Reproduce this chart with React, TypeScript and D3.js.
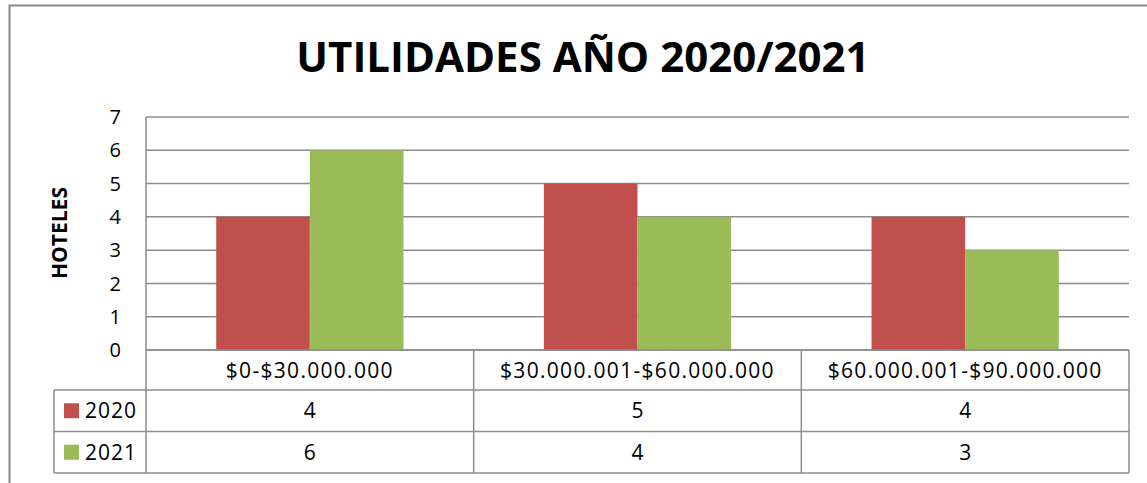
import React from "react";
import * as d3 from "d3";

const categories = ["$0-$30.000.000", "$30.000.001-$60.000.000", "$60.000.001-$90.000.000"];
const seriesNames = ["2020", "2021"];
const values2020 = [4, 5, 4];
const values2021 = [6, 4, 3];
const yTicks = [0, 1, 2, 3, 4, 5, 6, 7];
const colors = ["#C0504D", "#9BBB59"];
const title = "UTILIDADES AÑO 2020/2021";
const yLabel = "HOTELES";

export default function App() {
  const W = 1147, H = 483;
  const left = 146, right = 1129, top = 117, bottom = 350;
  const legendLeft = 54;
  const rowH = [350, 390, 431.5, 473];
  const font = "'Open Sans', sans-serif";
  const grid = "#8C8C8C";

  const x0 = d3.scaleBand<string>().domain(categories).range([left, right]).paddingInner(0).paddingOuter(0);
  const bw = x0.bandwidth();
  const x1 = d3.scaleBand<string>().domain(seriesNames).range([0, bw]).paddingInner(0).paddingOuter(0.75);
  const y = d3.scaleLinear().domain([0, 7]).range([bottom, top]);
  const series = [values2020, values2021];
  const tfs = 21;
  const ls = 1;

  return (
    <svg width={W} height={H} style={{ position: "absolute", left: 0, top: 0 }} fontFamily={font}>
      <rect x={0} y={0} width={W} height={H} fill="#fff" />
      <rect x={9.5} y={5.5} width={1150} height={500} fill="none" stroke="#888" strokeWidth={2} />
      <text x={583} y={72} textAnchor="middle" fontWeight="bold" fontSize={42} fill="#000">{title}</text>
      {yTicks.map((t) => (
        <line key={t} x1={left} x2={right} y1={y(t)} y2={y(t)} stroke={grid} strokeWidth={1.5} />
      ))}
      <line x1={left} x2={left} y1={top} y2={bottom} stroke={grid} strokeWidth={1.5} />
      {yTicks.map((t) => (
        <text key={t} x={121} y={y(t)} dy="0.36em" textAnchor="end" fontSize={20} fill="#000">{t}</text>
      ))}
      <text transform={`translate(67,233) rotate(-90)`} textAnchor="middle" fontWeight="bold" fontSize={21} fill="#000">{yLabel}</text>
      {series.map((vals, si) =>
        vals.map((v, ci) => (
          <rect key={`${si}-${ci}`} x={x0(categories[ci])! + x1(seriesNames[si])!} y={y(v)} width={x1.bandwidth()} height={y(0) - y(v)} fill={colors[si]} />
        ))
      )}
      <g stroke={grid} strokeWidth={1.5} fill="none">
        <line x1={left} x2={right} y1={rowH[0]} y2={rowH[0]} />
        <line x1={legendLeft} x2={right} y1={rowH[1]} y2={rowH[1]} />
        <line x1={legendLeft} x2={right} y1={rowH[2]} y2={rowH[2]} />
        <line x1={legendLeft} x2={right} y1={rowH[3]} y2={rowH[3]} />
        <line x1={legendLeft} x2={legendLeft} y1={rowH[1]} y2={rowH[3]} />
        {categories.map((c) => (
          <line key={c} x1={x0(c)!} x2={x0(c)!} y1={rowH[0]} y2={rowH[3]} />
        ))}
        <line x1={right} x2={right} y1={rowH[0]} y2={rowH[3]} />
      </g>
      {categories.map((c) => (
        <text key={c} x={x0(c)! + bw / 2} y={(rowH[0] + rowH[1]) / 2} dy="0.36em" textAnchor="middle" fontSize={tfs} letterSpacing={ls + 0.3} fill="#000">{c}</text>
      ))}
      {series.map((vals, si) => (
        <g key={si}>
          <rect x={64} y={(rowH[si + 1] + rowH[si + 2]) / 2 - 7.5} width={15} height={15} fill={colors[si]} />
          <text x={85} y={(rowH[si + 1] + rowH[si + 2]) / 2} dy="0.36em" fontSize={tfs} letterSpacing={ls} fill="#000">{seriesNames[si]}</text>
          {vals.map((v, ci) => (
            <text key={ci} x={x0(categories[ci])! + bw / 2} y={(rowH[si + 1] + rowH[si + 2]) / 2} dy="0.36em" textAnchor="middle" fontSize={tfs} fill="#000">{v}</text>
          ))}
        </g>
      ))}
    </svg>
  );
}
